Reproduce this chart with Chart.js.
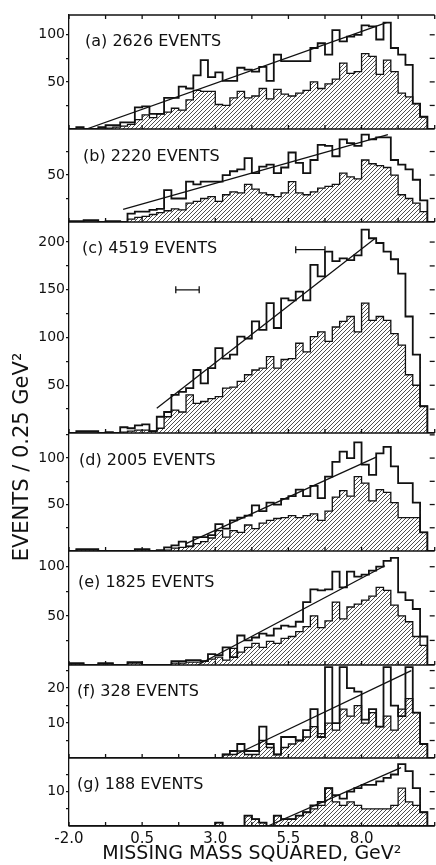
<!DOCTYPE html>
<html>
<head>
<meta charset="utf-8">
<script src="https://cdn.jsdelivr.net/npm/chart.js@4/dist/chart.umd.min.js"></script>
<style>
  html, body { margin: 0; padding: 0; background: #fff; overflow: hidden; }
  #wrap { width: 436px; height: 865px; overflow: hidden; }
</style>
</head>
<body>
<div id="wrap"><canvas id="myChart" width="440" height="865"></canvas></div>
<script>
// bins of 0.25 GeV^2 starting at -2.0
const X_START = -2.0;
const BIN = 0.25;
const X_TICKS = [-2.0, -0.75, 0.5, 1.75, 3.0, 4.25, 5.5, 6.75, 8.0, 9.25, 10.5];
const X_LABELS = [-2.0, 0.5, 3.0, 5.5, 8.0];

// (a) 2626 events
const allA = [0,2,0,0,2,4,4,7,7,23, 24,16,16,33,33,45,43,57,73,55, 60,51,51,65,63,61,66,51,79,72, 72,72,72,86,91,79,105,93,98,100, 110,109,95,113,86,79,68,27,13,0];
const hatA = [0,0,0,0,0,1,2,3,5,10, 15,12,16,18,22,20,31,41,40,40, 26,25,33,40,33,35,43,32,42,37, 35,38,41,50,43,48,53,70,59,61, 80,77,58,73,61,38,34,27,13,0];
const fitA = [[-1.4, 0], [8.85, 113]];

// (b) 2220 events
const allB = [1,1,2,2,0,1,1,0,9,11, 11,13,14,34,25,25,43,40,43,43, 43,50,54,56,68,52,59,61,52,58, 74,63,52,66,82,81,70,88,84,81, 93,88,90,90,66,61,56,45,23,0];
const hatB = [0,0,0,0,0,0,0,0,3,5, 6,8,10,12,14,13,20,22,25,27, 22,29,32,31,40,35,31,29,27,31, 43,31,29,32,36,38,40,52,48,46, 66,62,60,58,50,29,25,20,11,0];
const fitB = [[-0.15, 13.5], [8.9, 93]];

// (c) 4519 events
const allC = [0,2,2,2,0,1,0,6,5,8, 9,2,17,22,40,43,47,66,52,68, 89,78,82,101,99,117,108,136,110,141, 139,148,139,176,164,190,180,183,181,186, 213,204,199,190,182,167,122,82,28,0];
const hatC = [0,0,0,0,0,0,0,1,2,3, 3,2,5,17,24,22,40,31,33,36, 38,47,48,54,61,66,68,80,68,77, 78,94,85,101,106,96,111,117,122,106, 136,118,122,118,104,92,61,50,28,0];
const fitC = [[1.0, 26], [8.47, 204]];
const errC = [[[1.65, 150], [2.45, 150]], [[5.75, 192], [6.75, 192]]];

// (d) 2005 events
const allD = [0,2,2,2,0,0,0,0,0,2, 2,0,1,4,6,10,5,15,15,17, 29,24,33,36,38,49,43,52,50,56, 59,66,59,70,57,80,96,107,100,117, 93,82,105,112,91,73,73,52,20,0];
const hatD = [0,1,1,1,0,0,0,0,0,1, 1,0,0,1,3,4,5,8,10,14, 22,15,22,20,28,24,30,33,35,36, 38,36,38,40,33,43,58,65,59,80, 73,54,66,63,52,36,36,36,20,0];
const fitD = [[2.0, 8], [8.5, 101]];

// (e) 1825 events
const allE = [2,2,0,0,2,2,0,0,3,3, 0,0,0,0,4,4,5,5,4,11, 10,18,8,30,25,28,32,30,37,40, 39,44,64,77,76,77,95,79,95,90, 92,96,100,106,109,74,66,57,29,0];
const hatE = [1,1,0,0,1,1,0,0,2,2, 0,0,0,0,2,2,3,3,4,6, 8,5,17,13,18,22,18,24,22,27, 29,34,39,50,38,45,64,47,59,62, 66,70,79,76,61,50,44,29,20,0];
const fitE = [[2.4, 0], [8.8, 101]];

// (f) 328 events
const allF = [0,0,0,0,0,0,0,0,0,0, 0,0,0,0,0,0,0,0,0,0, 0,1,2,4,2,2,9,4,1,6, 6,5,8,14,6,26,10,26,20,19, 11,14,9,26,15,12,26,13,4,0];
const hatF = [0,0,0,0,0,0,0,0,0,0, 0,0,0,0,0,0,0,0,0,0, 0,1,1,2,1,1,5,3,1,3, 4,5,6,9,7,10,8,14,12,15, 10,13,9,12,8,14,17,13,4,0];
const fitF = [[3.7, 1], [9.7, 25]];

// (g) 188 events
const allG = [0,0,0,0,0,0,0,0,0,0, 0,0,0,0,0,0,0,0,0,0, 1,0,0,0,3,2,1,0,3,2, 2,3,4,6,7,11,9,8,10,11, 12,12,13,14,15,18,16,11,4,0];
const hatG = [0,0,0,0,0,0,0,0,0,0, 0,0,0,0,0,0,0,0,0,0, 1,0,0,0,3,2,1,0,3,2, 2,3,4,5,6,11,7,6,7,6, 5,5,5,5,6,11,7,6,4,0];
const fitG = [[4.8, 0], [9.35, 17]];

const PANELS = [
  { key: 'a', label: '(a) 2626 EVENTS', all: allA, hat: hatA, fit: fitA, max: 121, step: 25, labels: [50, 100] },
  { key: 'b', label: '(b) 2220 EVENTS', all: allB, hat: hatB, fit: fitB, max: 99,  step: 25, labels: [50] },
  { key: 'c', label: '(c) 4519 EVENTS', all: allC, hat: hatC, fit: fitC, max: 221, step: 25, labels: [50, 100, 150, 200] },
  { key: 'd', label: '(d) 2005 EVENTS', all: allD, hat: hatD, fit: fitD, max: 127, step: 25, labels: [50, 100] },
  { key: 'e', label: '(e) 1825 EVENTS', all: allE, hat: hatE, fit: fitE, max: 116, step: 25, labels: [50, 100] },
  { key: 'f', label: '(f) 328 EVENTS',  all: allF, hat: hatF, fit: fitF, max: 26.6, step: 5, labels: [10, 20] },
  { key: 'g', label: '(g) 188 EVENTS',  all: allG, hat: hatG, fit: fitG, max: 19.8, step: 5, labels: [10] }
];

// layout (pixel heights of the panels, label offsets)
const PANEL_HEIGHTS = [114, 93, 211, 118, 114, 93, 68];
const LABEL_DX = [16, 14, 13, 10, 9, 8, 8];
const LABEL_DY = [27, 28, 27, 28, 32, 27, 27];

const INK = '#111';
Chart.defaults.font.family = "'DejaVu Sans', sans-serif";
Chart.defaults.color = INK;

function hatchPattern() {
  const c = document.createElement('canvas');
  c.width = 4; c.height = 4;
  const g = c.getContext('2d');
  g.strokeStyle = '#222';
  g.lineWidth = 0.8;
  g.beginPath();
  g.moveTo(0, 4); g.lineTo(4, 0);
  g.moveTo(-1, 1); g.lineTo(1, -1);
  g.moveTo(3, 5); g.lineTo(5, 3);
  g.stroke();
  return g.createPattern(c, 'repeat');
}
const HATCH = hatchPattern();

function steps(values) {
  const pts = [{ x: X_START, y: 0 }];
  values.forEach((v, i) => pts.push({ x: X_START + i * BIN, y: v }));
  pts.push({ x: X_START + values.length * BIN, y: 0 });
  return pts;
}
const toPts = arr => arr.map(p => ({ x: p[0], y: p[1] }));

const datasets = [];
const scales = {
  x: {
    type: 'linear', position: 'bottom', min: -2, max: 10.5,
    afterFit: s => { s.height = 39; },
    afterBuildTicks: s => { s.ticks = X_TICKS.map(v => ({ value: v })); },
    ticks: {
      autoSkip: false, maxRotation: 0, padding: 4, font: { size: 15 }, color: INK,
      callback: v => X_LABELS.includes(v) ? v.toFixed(1) : ''
    },
    grid: { display: true, drawOnChartArea: false, drawTicks: false },
    border: { display: true, color: INK, width: 1.3 },
    title: { display: true, text: 'MISSING MASS SQUARED, GeV²', font: { size: 19 }, color: INK, padding: { top: 0, bottom: 0 } }
  }
};

PANELS.forEach((p, k) => {
  const yid = 'y' + p.key;
  scales[yid] = {
    type: 'linear', position: 'left', stack: 'panels',
    stackWeight: PANEL_HEIGHTS[k], weight: PANELS.length - k,
    min: 0, max: p.max,
    afterFit: s => { s.width = 69; },
    afterBuildTicks: s => { s.ticks = s.ticks.filter(t => t.value > 0 && t.value % p.step === 0); },
    ticks: {
      stepSize: p.step, includeBounds: false, autoSkip: false, padding: 1, font: { size: 14 }, color: INK,
      callback: v => p.labels.includes(v) ? String(v) : ''
    },
    grid: { drawOnChartArea: false, tickLength: 3, color: INK, lineWidth: 1.3 },
    border: { display: true, color: INK, width: 1.3 }
  };
  datasets.push({
    data: steps(p.hat), yAxisID: yid, stepped: 'before', order: 3,
    borderColor: INK, borderWidth: 1.3, pointRadius: 0,
    fill: 'origin', backgroundColor: HATCH
  });
  datasets.push({
    data: steps(p.all), yAxisID: yid, stepped: 'before', order: 2,
    borderColor: INK, borderWidth: 1.8, pointRadius: 0, fill: false
  });
  datasets.push({
    data: toPts(p.fit), yAxisID: yid, order: 1,
    borderColor: INK, borderWidth: 1.3, pointRadius: 0, fill: false
  });
});

errC.forEach(e => datasets.push({
  data: toPts(e), yAxisID: 'yc', order: 1,
  borderColor: INK, borderWidth: 1.3, fill: false,
  pointStyle: 'line', rotation: 90, pointRadius: 3.5, pointBorderWidth: 1.3, pointBorderColor: INK
}));

function seg(ctx, x1, y1, x2, y2) {
  ctx.beginPath(); ctx.moveTo(x1, y1); ctx.lineTo(x2, y2); ctx.stroke();
}

const decor = {
  id: 'decor',
  afterDraw(chart) {
    const { ctx, chartArea: area, scales: sc } = chart;
    const xs = sc.x;
    ctx.save();
    ctx.strokeStyle = INK;
    ctx.lineWidth = 1.3;
    ctx.fillStyle = INK;
    PANELS.forEach((p, k) => {
      const ys = sc['y' + p.key];
      seg(ctx, area.left, ys.bottom, area.right, ys.bottom);
      if (k === 0) seg(ctx, area.left, ys.top, area.right, ys.top);
      X_TICKS.forEach(v => {
        const px = xs.getPixelForValue(v);
        seg(ctx, px, ys.bottom, px, ys.bottom - 4);
        if (k === 0) seg(ctx, px, ys.top, px, ys.top + 4);
      });
      ys.ticks.forEach(t => {
        const py = ys.getPixelForValue(t.value);
        seg(ctx, area.right - 5, py, area.right, py);
      });
      ctx.font = "16px 'DejaVu Sans'";
      ctx.textAlign = 'left';
      ctx.textBaseline = 'middle';
      ctx.fillText(p.label, area.left + LABEL_DX[k], ys.top + LABEL_DY[k]);
    });
    // y axis title
    ctx.translate(23, 457);
    ctx.rotate(-Math.PI / 2);
    ctx.font = "21px 'DejaVu Sans'";
    ctx.textAlign = 'center';
    ctx.textBaseline = 'middle';
    ctx.fillText('EVENTS / 0.25 GeV²', 0, 0);
    ctx.restore();
  }
};

const ctx = document.getElementById('myChart');
new Chart(ctx, {
  type: 'line',
  data: { datasets: datasets },
  options: {
    responsive: false,
    animation: false,
    devicePixelRatio: 1,
    layout: { padding: { top: 15, left: 0, right: 2, bottom: 0 } },
    elements: { line: { tension: 0 } },
    plugins: { legend: { display: false }, tooltip: { enabled: false } },
    scales: scales
  },
  plugins: [decor]
});
</script>
</body>
</html>
